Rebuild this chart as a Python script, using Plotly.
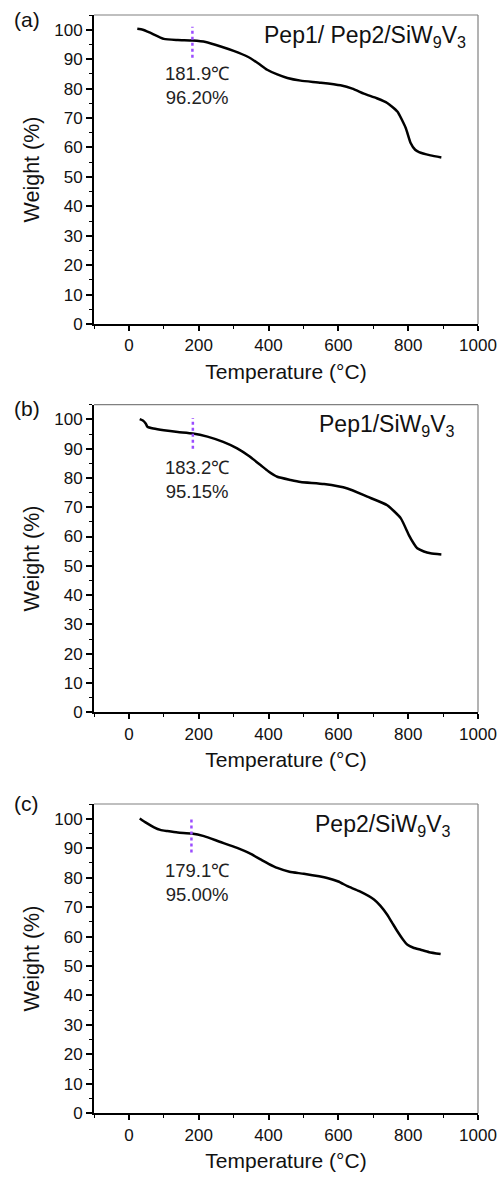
import plotly.graph_objects as go

# ---- data ----
temp_a = [24, 40, 62, 100, 140, 182, 220, 263, 300, 339, 370, 396, 425, 454, 492, 550, 606, 640, 673, 710, 740, 769, 793, 807, 820, 831, 864, 895]
weight_a = [100.3, 100.0, 98.9, 96.9, 96.5, 96.3, 95.8, 94.3, 92.8, 90.9, 88.6, 86.4, 84.8, 83.6, 82.7, 82.0, 81.1, 80.0, 78.3, 76.7, 75.1, 72.2, 66.6, 61.5, 59.2, 58.4, 57.3, 56.6]

temp_b = [31, 40, 48, 53, 70, 100, 140, 183, 225, 270, 310, 345, 377, 400, 425, 463, 492, 559, 626, 683, 740, 779, 802, 815, 826, 845, 864, 895]
weight_b = [100.1, 99.6, 98.6, 97.5, 96.9, 96.3, 95.7, 95.2, 94.1, 92.3, 90.1, 87.4, 84.4, 82.2, 80.4, 79.3, 78.6, 77.9, 76.4, 73.6, 70.7, 66.2, 60.5, 57.8, 56.0, 54.9, 54.3, 53.9]

temp_c = [31, 50, 72, 90, 110, 140, 179, 215, 260, 310, 345, 377, 400, 425, 460, 501, 568, 600, 626, 660, 702, 720, 740, 755, 769, 785, 798, 815, 836, 860, 893]
weight_c = [100.1, 98.6, 97.1, 96.2, 95.8, 95.3, 95.0, 94.1, 92.2, 90.1, 88.3, 86.2, 84.7, 83.3, 82.0, 81.3, 79.9, 78.7, 77.1, 75.4, 72.6, 70.5, 67.4, 64.5, 61.8, 59.0, 57.2, 56.2, 55.5, 54.7, 54.1]

panel_letters = ["(a)", "(b)", "(c)"]
sample_names = ["Pep1/ Pep2/SiW<sub>9</sub>V<sub>3</sub>", "Pep1/SiW<sub>9</sub>V<sub>3</sub>", "Pep2/SiW<sub>9</sub>V<sub>3</sub>"]
onset_temp = [181.9, 183.2, 179.1]
onset_weight_text = ["96.20%", "95.15%", "95.00%"]
marker_top = [101.0, 100.5, 100.5]
marker_bottom = [90.5, 90.0, 88.5]
label_y = [81.2, 79.4, 78.5]
name_x = [0.974, 0.945, 0.935]
letter_drop_px = [4, 4, -1]

x_ticks = [0, 200, 400, 600, 800, 1000]
y_ticks = [0, 10, 20, 30, 40, 50, 60, 70, 80, 90, 100]

temps = [temp_a, temp_b, temp_c]
weights = [weight_a, weight_b, weight_c]

# ---- layout geometry (pixels -> paper) ----
W, H = 501, 1177
x_dom = [94 / W, 478 / W]
y_doms = [
    [1 - 324 / H, 1 - 15 / H],
    [1 - 712.3 / H, 1 - 404.7 / H],
    [1 - 1113.3 / H, 1 - 804 / H],
]

FONT = "Liberation Sans, Arial, sans-serif"
fig = go.Figure()
annotations = []
shapes = []

for i in range(3):
    xa = "x" if i == 0 else f"x{i+1}"
    ya = "y" if i == 0 else f"y{i+1}"
    fig.add_trace(go.Scatter(
        x=temps[i], y=weights[i], mode="lines",
        line=dict(color="black", width=2.5, shape="spline", smoothing=0.5),
        xaxis=xa, yaxis=ya, showlegend=False, hoverinfo="skip"))
    fig.add_trace(go.Scatter(
        x=[onset_temp[i], onset_temp[i]], y=[marker_bottom[i], marker_top[i]],
        mode="lines", line=dict(color="#9b4dff", width=2.5, dash="dot"),
        xaxis=xa, yaxis=ya, showlegend=False, hoverinfo="skip"))

    xkey = "xaxis" if i == 0 else f"xaxis{i+1}"
    ykey = "yaxis" if i == 0 else f"yaxis{i+1}"
    fig.layout[xkey] = dict(
        domain=x_dom, anchor=ya, range=[-100, 1000],
        tickvals=x_ticks, ticks="outside", ticklen=5, tickwidth=1.5, tickcolor="black",
        minor=dict(dtick=100, tick0=0, ticks="outside", ticklen=3, tickwidth=1.2, tickcolor="black"),
        showline=True, linecolor="black", linewidth=2, showgrid=False, zeroline=False,
        tickfont=dict(family=FONT, size=17, color="#111"),
        title=dict(text="Temperature (°C)", font=dict(family=FONT, size=21, color="#111"), standoff=10),
        automargin=False,
    )
    fig.layout[ykey] = dict(
        domain=y_doms[i], anchor=xa, range=[0, 105],
        tickvals=y_ticks, ticks="outside", ticklen=6, tickwidth=1.5, tickcolor="black",
        minor=dict(dtick=5, tick0=0, ticks="outside", ticklen=3, tickwidth=1.2, tickcolor="black"),
        showline=True, linecolor="black", linewidth=2, showgrid=False, zeroline=False,
        tickfont=dict(family=FONT, size=17, color="#111"),
        title=dict(text="Weight (%)", font=dict(family=FONT, size=21.5, color="#111"), standoff=9),
        automargin=False,
    )
    # top and right frame lines (thin gray)
    shapes.append(dict(type="line", xref=f"{xa} domain", yref=f"{ya} domain",
                       x0=0, x1=1, y0=1, y1=1, line=dict(color="#808080", width=1.2)))
    shapes.append(dict(type="line", xref=f"{xa} domain", yref=f"{ya} domain",
                       x0=1, x1=1, y0=0, y1=1, line=dict(color="#808080", width=1.2)))

    annotations.append(dict(
        text=f"{onset_temp[i]}℃<br>{onset_weight_text[i]}", x=194, y=label_y[i],
        xref=xa, yref=ya, showarrow=False, xanchor="center", yanchor="middle",
        font=dict(family=FONT, size=18.5, color="#222"), align="center"))
    annotations.append(dict(
        text=sample_names[i], x=name_x[i], y=0.985, xref=f"{xa} domain", yref=f"{ya} domain",
        showarrow=False, xanchor="right", yanchor="top",
        font=dict(family=FONT, size=23, color="#111")))
    annotations.append(dict(
        text=panel_letters[i], x=12 / W, y=y_doms[i][1] - letter_drop_px[i] / H,
        xref="paper", yref="paper",
        showarrow=False, xanchor="left", yanchor="middle",
        font=dict(family=FONT, size=21, color="#111")))

fig.update_layout(
    width=W, height=H, margin=dict(l=0, r=0, t=0, b=0),
    paper_bgcolor="white", plot_bgcolor="white",
    annotations=annotations, shapes=shapes, showlegend=False,
)

fig.write_html("out.html")
